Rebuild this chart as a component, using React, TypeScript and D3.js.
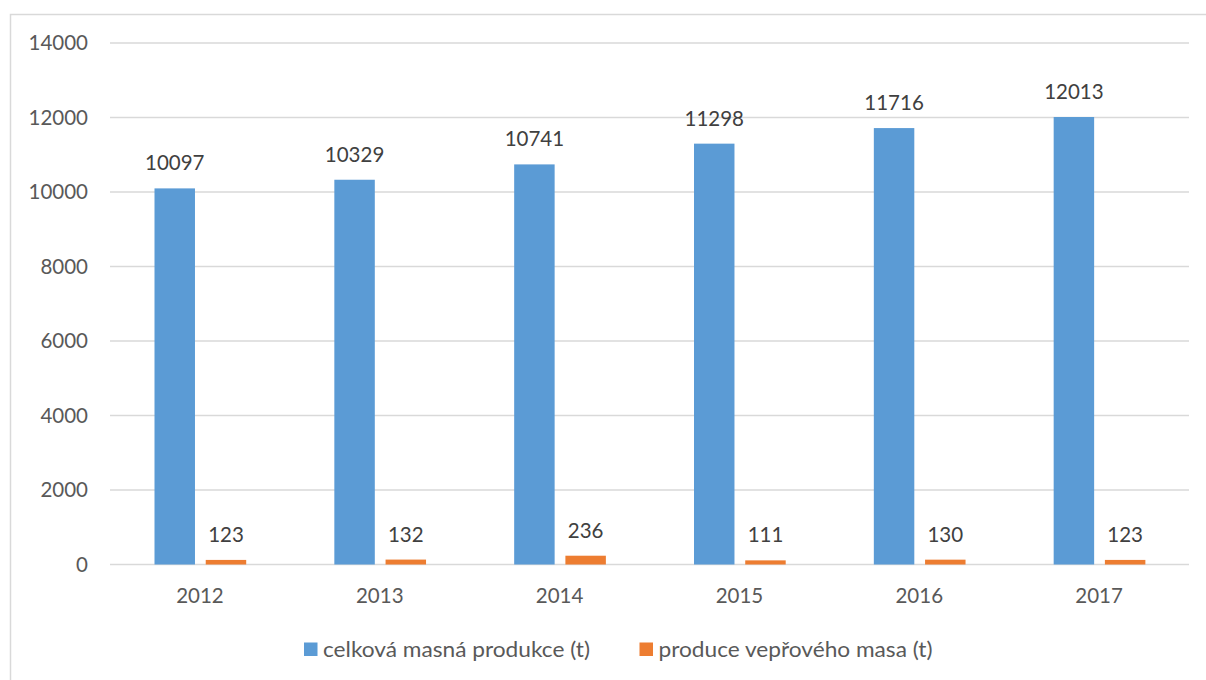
import React from "react";
import * as d3 from "d3";

const years = ["2012", "2013", "2014", "2015", "2016", "2017"];
const totalMeat = [10097, 10329, 10741, 11298, 11716, 12013];
const porkMeat = [123, 132, 236, 111, 130, 123];
const seriesNames = ["celková masná produkce (t)", "produce vepřového masa (t)"];
const colors = ["#5B9BD5", "#ED7D31"];
const yTicks = [0, 2000, 4000, 6000, 8000, 10000, 12000, 14000];

export default function App() {
  const W = 1206, H = 680;
  const left = 110, right = 1189, top = 43, bottom = 564.5;
  const font = "Lato, 'Open Sans', sans-serif";
  const x = d3.scaleBand<string>().domain(years).range([left, right]).paddingInner(0).paddingOuter(0);
  const y = d3.scaleLinear().domain([0, 14000]).range([bottom, top]);
  const inner = d3.scaleBand<number>().domain([0, 1]).range([44.5, 136.2]).paddingInner(0.21).paddingOuter(0);
  const series = [totalMeat, porkMeat];
  const legendX = [304, 639.5];
  const legendLen = [267, 274];
  return (
    <svg width={W} height={H} style={{ position: "absolute", left: 0, top: 0, background: "#fff" }}>
      <rect x={10.5} y={14.5} width={1220} height={700} fill="#fff" stroke="#d9d9d9" strokeWidth={1.5} />
      {yTicks.map((t) => (
        <g key={t}>
          <line x1={left} x2={right} y1={y(t)} y2={y(t)} stroke="#d9d9d9" strokeWidth={1.5} />
          <text x={88} y={y(t) + 7} textAnchor="end" fontFamily={font} fontSize={20.5} fill="#595959">{t}</text>
        </g>
      ))}
      {years.map((yr, i) => (
        <g key={yr}>
          {series.map((s, si) => {
            const bx = (x(yr) as number) + (inner(si) as number);
            const bw = inner.bandwidth();
            return (
              <g key={si}>
                <rect x={bx} y={y(s[i])} width={bw} height={bottom - y(s[i])} fill={colors[si]} />
                <text x={bx + bw / 2} y={y(s[i]) - 18} textAnchor="middle" fontFamily={font} fontSize={20.5} fill="#404040">{s[i]}</text>
              </g>
            );
          })}
          <text x={(x(yr) as number) + x.bandwidth() / 2} y={603} textAnchor="middle" fontFamily={font} fontSize={20.5} fill="#595959">{yr}</text>
        </g>
      ))}
      {seriesNames.map((n, i) => (
        <g key={n}>
          <rect x={legendX[i]} y={642.5} width={13.5} height={13.5} fill={colors[i]} />
          <text x={legendX[i] + 19} y={656.5} fontFamily={font} fontSize={21} fill="#595959" textLength={legendLen[i]} lengthAdjust="spacingAndGlyphs">{n}</text>
        </g>
      ))}
    </svg>
  );
}
